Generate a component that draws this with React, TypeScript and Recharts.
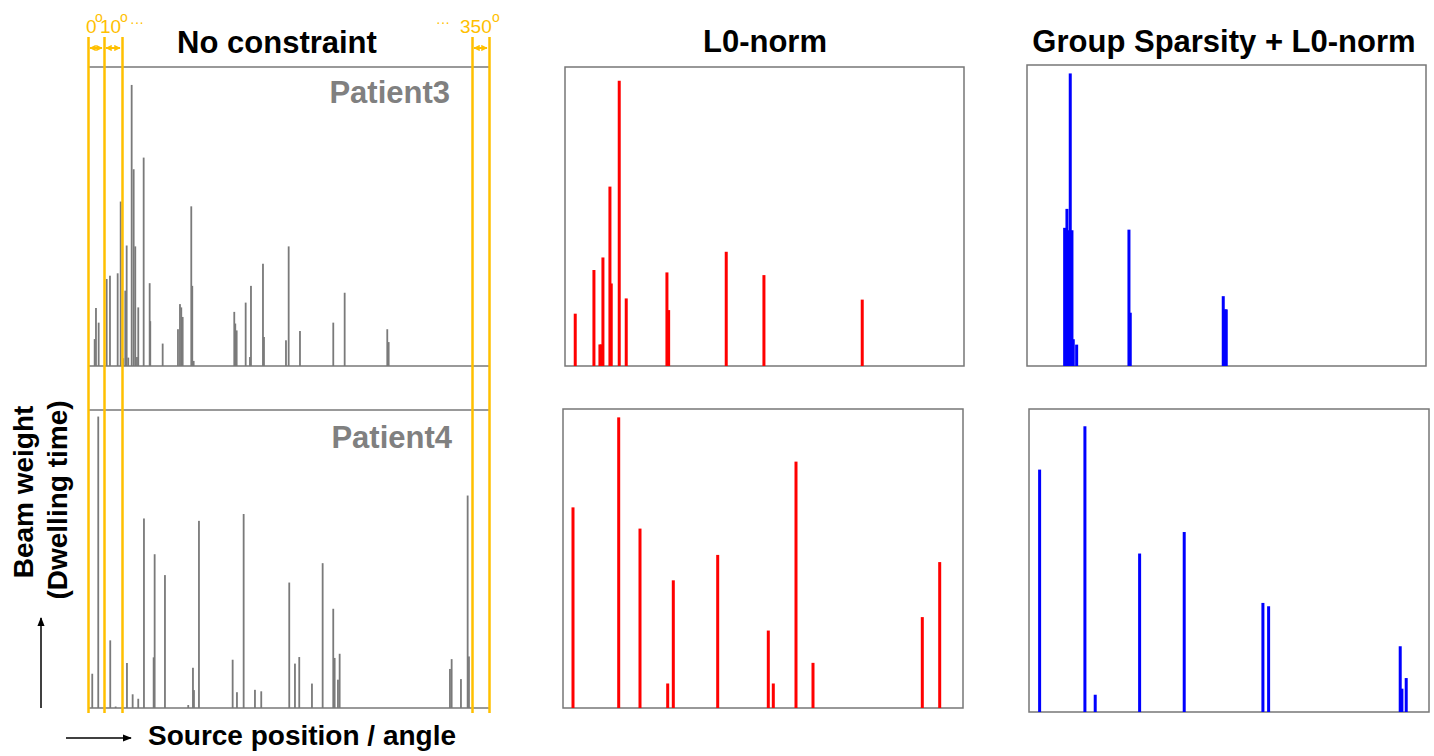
import { BarChart, Bar, XAxis, YAxis, ReferenceLine, ReferenceArea } from 'recharts';

// source position (0 = left edge of the panel) and beam weight (% of panel height)
const patient3Free: [number, number][] = [
    [6.7, 9], [8, 19.4], [10.7, 14.5], [18.7, 29.1], [22, 30.2], [29.7, 31], [32.7, 55], [35.3, 2.6],
    [37.3, 25.2], [38.7, 40.3], [40.3, 2.8], [43.7, 94], [45.7, 65.8], [47.3, 40], [49, 3], [50.3, 19.6],
    [55.7, 69.7], [61.7, 27.7], [62.3, 15], [74.7, 7.5], [90, 12.3], [92, 20.7], [93.3, 19.6], [94.7, 16.4],
    [103.3, 53.4], [104.3, 26.8], [105.7, 1.7], [146.3, 18.1], [147.3, 14.2], [148.7, 11.9], [157.7, 21.2],
    [162, 3], [163, 26.8], [175, 34.2], [176, 9.7], [198, 8.6], [200.7, 40], [212, 11.7], [245.3, 14.5],
    [256.7, 24.5], [299.3, 12.3], [300.7, 8],
];

const patient4Free: [number, number][] = [
    [4.3, 11.5], [10.3, 97.8], [22.3, 22.7], [27.7, 0.5], [39, 15.1], [44.7, 4.6], [50.3, 3.1], [56, 63.6],
    [65.7, 17], [66.7, 51.6], [77, 44.6], [100.3, 1], [105, 13.5], [106, 6], [111, 62.8], [144.7, 16.2],
    [149, 5.3], [155.7, 65.1], [167, 6.1], [173.3, 5.6], [201.3, 42.1], [207, 14.9], [211.3, 17.1], [224, 8.2],
    [234.7, 48.6], [245.3, 33.3], [246.7, 16.8], [250, 9.5], [251.7, 18.2], [362, 13.1], [363.7, 16.4],
    [373, 9.7], [379.7, 71.3], [381, 17.3],
];

const patient3L0: [number, number][] = [
    [10.3, 17.5], [29, 32.1], [35, 7.2], [36.3, 7.2], [38, 36.3], [45, 60], [46.3, 27.6], [54.3, 95.4],
    [61.3, 22.6], [102, 31.3], [103.7, 18.7], [161.3, 38.2], [199, 30.4], [297.3, 22.2],
];

const patient4L0: [number, number][] = [
    [10, 67.1], [55.7, 97.2], [77, 60], [104.7, 8.2], [110.3, 42.7], [154.7, 51.2], [205.3, 25.9],
    [210.3, 8.2], [233, 82.4], [250, 15.1], [359.3, 30.4], [376.7, 48.8],
];

const patient3Group: [number, number][] = [
    [37.7, 45.9], [40, 52.2], [41.3, 45.1], [43.3, 97.2], [45, 45.1], [46.3, 8.9], [49.7, 7.1],
    [102, 45.3], [103.3, 17.7], [196.3, 23.2], [198.3, 18.8], [199.3, 18.8],
];

const patient4Group: [number, number][] = [
    [10.7, 80], [56, 94.3], [66.3, 5.7], [110.7, 52.3], [155.3, 59.4], [234, 36], [239.7, 34.9],
    [371.3, 21.7], [373, 7.7], [377.3, 11.2],
];

// angle markers over the "No constraint" column
const angleMarks = [0, 16, 34, 384, 401];

const YELLOW = '#FFC000';
const FRAME = '#777777';
const FONT = '"Liberation Sans", Arial, sans-serif';

const toStems = (pairs: [number, number][]) => pairs.map(([x, w]) => ({ x, w }));

interface StemPanelProps {
    pairs: [number, number][];
    color: string;
    stemWidth: number;
    left: number;
    top: number;
    width: number;
    height: number;
    boxed: boolean;
}

function StemPanel({ pairs, color, stemWidth, left, top, width, height, boxed }: StemPanelProps) {
    return (
        <div style={{ position: 'absolute', left: left - 1, top: top - 1 }}>
            <BarChart
                width={width + 2}
                height={height + 2}
                data={toStems(pairs)}
                margin={{ top: 1, right: 1, bottom: 1, left: 1 }}
            >
                <XAxis type="number" dataKey="x" domain={[0, width]} allowDataOverflow hide />
                <YAxis type="number" domain={[0, 100]} allowDataOverflow hide />
                {boxed && (
                    <ReferenceArea x1={0} x2={width} y1={0} y2={100} fill="none" stroke={FRAME} strokeWidth={1.5} />
                )}
                {!boxed && <ReferenceLine y={100} stroke={FRAME} strokeWidth={1.5} />}
                {!boxed && <ReferenceLine y={0} stroke={FRAME} strokeWidth={1.5} />}
                <Bar
                    dataKey="w"
                    fill={color}
                    barSize={stemWidth}
                    isAnimationActive={false}
                    shape={(p: any) => (
                        <rect
                            x={p.x + p.width / 2 - stemWidth / 2}
                            y={p.y}
                            width={stemWidth}
                            height={Math.max(p.height, 0)}
                            fill={color}
                        />
                    )}
                />
            </BarChart>
        </div>
    );
}

// full-height yellow separators drawn as bars reaching the top of the domain
function AngleOverlay() {
    return (
        <div style={{ position: 'absolute', left: 86, top: 37, pointerEvents: 'none' }}>
            <BarChart
                width={405}
                height={676}
                data={angleMarks.map((x) => ({ x, v: 1 }))}
                margin={{ top: 0, right: 2, bottom: 0, left: 2 }}
            >
                <XAxis type="number" dataKey="x" domain={[0, 401]} hide />
                <YAxis type="number" domain={[0, 1]} hide />
                <Bar
                    dataKey="v"
                    fill={YELLOW}
                    barSize={3}
                    isAnimationActive={false}
                    shape={(p: any) => (
                        <rect x={p.x + p.width / 2 - 1.25} y={p.y} width={2.5} height={p.height} fill={YELLOW} />
                    )}
                />
            </BarChart>
        </div>
    );
}

export default function App() {
    const gray = '#808080';
    const arrowPairs = [[0, 1], [1, 2], [3, 4]];
    return (
        <div
            style={{
                position: 'absolute',
                left: 0,
                top: 0,
                width: 1434,
                height: 756,
                background: '#fff',
                fontFamily: FONT,
                overflow: 'hidden',
            }}
        >
            <svg width={1434} height={756} style={{ position: 'absolute', left: 0, top: 0 }}>
                <defs>
                    <marker id="yh" viewBox="0 0 10 10" refX="9" refY="5" markerWidth="3.2" markerHeight="3.2" orient="auto-start-reverse">
                        <path d="M0,0 L10,5 L0,10 z" fill={YELLOW} />
                    </marker>
                    <marker id="bh" viewBox="0 0 10 10" refX="9" refY="5" markerWidth="6" markerHeight="6" orient="auto">
                        <path d="M0,1 L10,5 L0,9 z" fill="#000" />
                    </marker>
                </defs>
                <g fontFamily={FONT} fontWeight="bold">
                    <text x={277} y={53} fontSize={31} textAnchor="middle" fill="#000">No constraint</text>
                    <text x={765} y={52} fontSize={31} textAnchor="middle" fill="#000">L0-norm</text>
                    <text x={1224} y={52} fontSize={31} textAnchor="middle" fill="#000">Group Sparsity + L0-norm</text>
                    <text x={450} y={103} fontSize={31} textAnchor="end" fill={gray}>Patient3</text>
                    <text x={452} y={448} fontSize={31} textAnchor="end" fill={gray}>Patient4</text>
                    <text x={33} y={492} fontSize={28} textAnchor="middle" transform="rotate(-90 33 492)" fill="#000">Beam weight</text>
                    <text x={67} y={500} fontSize={28} textAnchor="middle" transform="rotate(-90 67 500)" fill="#000">(Dwelling time)</text>
                    <text x={148} y={745} fontSize={28} fill="#000">Source position / angle</text>
                </g>
                <g fontFamily={FONT} fill={YELLOW}>
                    <text x={86} y={33} fontSize={19}>0</text>
                    <text x={95} y={22} fontSize={14}>o</text>
                    <text x={100} y={33} fontSize={19}>10</text>
                    <text x={120} y={22} fontSize={14}>o</text>
                    <text x={130} y={27} fontSize={14}>···</text>
                    <text x={436} y={27} fontSize={14}>···</text>
                    <text x={460} y={33} fontSize={19}>350</text>
                    <text x={492} y={22} fontSize={14}>o</text>
                </g>
                {arrowPairs.map(([a, b]) => (
                    <line
                        key={a}
                        x1={88 + angleMarks[a] + 2}
                        x2={88 + angleMarks[b] - 2}
                        y1={48}
                        y2={48}
                        stroke={YELLOW}
                        strokeWidth={2}
                        markerStart="url(#yh)"
                        markerEnd="url(#yh)"
                    />
                ))}
                <line x1={41} y1={708} x2={41} y2={618} stroke="#000" strokeWidth={1.5} markerEnd="url(#bh)" />
                <line x1={66} y1={738} x2={131} y2={738} stroke="#000" strokeWidth={1.5} markerEnd="url(#bh)" />
            </svg>

            <StemPanel pairs={patient3Free} color="#7a7a7a" stemWidth={1.8} left={88} top={67} width={401} height={299} boxed={false} />
            <StemPanel pairs={patient4Free} color="#7a7a7a" stemWidth={1.8} left={88} top={410} width={401} height={298} boxed={false} />
            <StemPanel pairs={patient3L0} color="#ff0000" stemWidth={3} left={565} top={67} width={399} height={299} boxed />
            <StemPanel pairs={patient4L0} color="#ff0000" stemWidth={3} left={563} top={409} width={400} height={299} boxed />
            <StemPanel pairs={patient3Group} color="#0000ff" stemWidth={3} left={1027} top={65} width={399} height={301} boxed />
            <StemPanel pairs={patient4Group} color="#0000ff" stemWidth={3} left={1029} top={409} width={400} height={303} boxed />
            <AngleOverlay />
        </div>
    );
}
